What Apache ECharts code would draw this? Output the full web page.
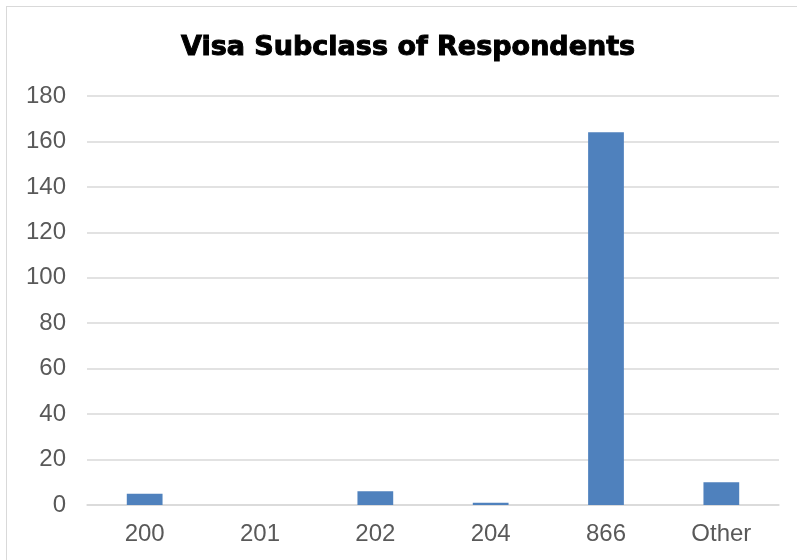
<!DOCTYPE html>
<html>
<head>
<meta charset="utf-8">
<script src="https://cdn.jsdelivr.net/npm/echarts@6/dist/echarts.min.js"></script>
<style>
  html, body { margin: 0; padding: 0; background: #fff; overflow: hidden; }
  #frame { position: absolute; left: 6px; top: 6px; width: 820px; height: 600px; border: 1px solid #d9d9d9; }
  #chart { position: absolute; left: 0; top: 0; width: 797px; height: 560px; }
</style>
</head>
<body>
<div id="frame"></div>
<div id="chart"></div>
<script>
// Visa subclass counts
const subclasses = ['200', '201', '202', '204', '866', 'Other'];
const respondents = [5, 0, 6, 1, 164, 10];

const yMin = 0;
const yMax = 180;
const yStep = 20;

const chart = echarts.init(document.getElementById('chart'));

const option = {
    animation: false,
    title: {
        text: 'Visa Subclass of Respondents',
        left: 176,
        top: 29,
        textStyle: {
            fontFamily: 'DejaVu Sans',
            fontWeight: 'bold',
            fontSize: 27,
            color: '#000',
            textBorderColor: '#000',
            textBorderWidth: 1
        }
    },
    grid: {
        left: 87,
        right: 18,
        top: 96,
        bottom: 55
    },
    xAxis: {
        type: 'category',
        data: subclasses,
        axisLine: { lineStyle: { color: '#d9d9d9', width: 1.5 } },
        axisTick: { show: false },
        axisLabel: {
            color: '#595959',
            fontFamily: 'Liberation Sans',
            fontSize: 24,
            margin: 17
        }
    },
    yAxis: {
        type: 'value',
        min: yMin,
        max: yMax,
        interval: yStep,
        axisLine: { show: false },
        axisTick: { show: false },
        splitLine: { lineStyle: { color: '#d9d9d9', width: 1.5 } },
        axisLabel: {
            color: '#595959',
            fontFamily: 'Liberation Sans',
            fontSize: 24,
            margin: 21
        }
    },
    series: [{
        type: 'bar',
        data: respondents,
        barWidth: '31%',
        itemStyle: {
            color: '#4f81bd'
        }
    }]
};

chart.setOption(option);
</script>
</body>
</html>
